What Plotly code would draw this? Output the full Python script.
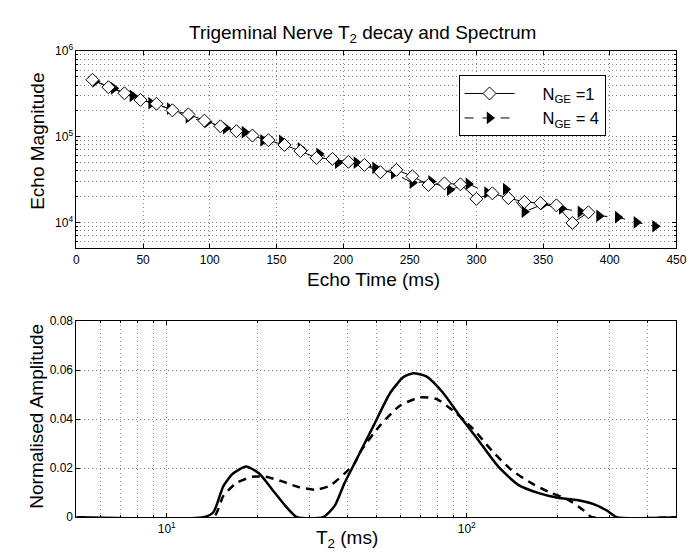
import math
import plotly.graph_objects as go

# ---- top panel: echo decay ----
echo_time_1 = [12, 24, 36, 48, 60, 72, 84, 96, 108, 120, 132, 144, 156, 168, 180, 192,
               204, 216, 228, 240, 252, 264, 276, 288, 300, 312, 324, 336, 348, 360, 372, 384]
echo_mag_1 = [4.62e5, 3.78e5, 3.21e5, 2.68e5, 2.42e5, 2.03e5, 1.82e5, 1.54e5, 1.32e5, 1.16e5,
              1.03e5, 9.1e4, 8.0e4, 6.8e4, 5.65e4, 5.5e4, 5.09e4, 4.68e4, 3.85e4, 4.10e4,
              3.45e4, 2.73e4, 2.85e4, 2.78e4, 1.88e4, 2.18e4, 1.92e4, 1.73e4, 1.68e4, 1.58e4,
              9.85e3, 1.31e4]

echo_time_4 = [14, 28, 42, 56, 70, 84, 98, 112, 126, 140, 154, 168, 182, 196, 210, 224,
               238, 252, 266, 280, 294, 308, 322, 336, 350, 364, 378, 392, 406, 420, 434]
echo_mag_4 = [4.43e5, 3.67e5, 3.0e5, 2.46e5, 2.12e5, 1.68e5, 1.48e5, 1.26e5, 1.13e5, 9.06e4,
              8.95e4, 7.33e4, 6.31e4, 4.97e4, 4.97e4, 4.33e4, 3.73e4, 2.90e4, 3.0e4, 2.40e4,
              2.81e4, 2.23e4, 2.44e4, 1.33e4, 1.63e4, 1.45e4, 1.33e4, 1.19e4, 1.15e4, 1.0e4,
              9.0e3]

# ---- bottom panel: T2 spectrum ----
t2_1 = [5, 13.27, 14.3, 15.43, 16.63, 18.39, 20.33, 22.49, 24.87, 27.18, 33.21, 36.28, 39.13,
        42.2, 49.07, 55.67, 61.54, 66.37, 73.38, 83.24, 94.43, 109.8, 127.7, 148.5, 172.8,
        200.9, 233.6, 264.9, 293.1, 316.0, 500]
amp_1 = [0, 0, 0.0020, 0.0126, 0.0178, 0.0207, 0.0178, 0.0112, 0.0046, 0, 0, 0.0046, 0.0139,
         0.0218, 0.0377, 0.0509, 0.0572, 0.0588, 0.0575, 0.0509, 0.0416, 0.0311, 0.0205, 0.0132,
         0.0099, 0.0079, 0.0070, 0.0053, 0.0027, 0, 0]

t2_4 = [5, 14.3, 15.43, 17.05, 19.34, 21.39, 24.26, 27.51, 31.2, 34.94, 39.13, 42.2, 44.38,
        51.62, 60.02, 69.82, 79.14, 89.81, 104.4, 121.4, 141.2, 164.2, 191.0, 216.6, 245.6,
        261.7, 500]
amp_4 = [0, 0, 0.0086, 0.0139, 0.0165, 0.0165, 0.0146, 0.0123, 0.0112, 0.0128, 0.0178, 0.0218,
         0.0271, 0.0377, 0.0456, 0.0489, 0.0483, 0.0436, 0.0364, 0.0271, 0.0192, 0.0139, 0.0099,
         0.0073, 0.0027, 0, 0]

x_ticks_top = [0, 50, 100, 150, 200, 250, 300, 350, 400, 450]
y_ticks_top = [1e4, 1e5, 1e6]
x_ticks_bot = [10, 100]
y_ticks_bot = [0, 0.02, 0.04, 0.06, 0.08]
y_labels_bot = ['0', '0.02', '0.04', '0.06', '0.08']

font = "Liberation Sans, Arial, sans-serif"
pad = '&nbsp;&nbsp;&nbsp;&nbsp;&nbsp;'

fig = go.Figure()

fig.add_trace(go.Scatter(
    x=echo_time_4, y=echo_mag_4, mode='lines+markers', name=pad + 'N<sub>GE</sub> = 4',
    line=dict(color='black', width=1, dash='dash'),
    marker=dict(symbol='triangle-right', size=11, color='black'),
    xaxis='x', yaxis='y', legendrank=2
))
fig.add_trace(go.Scatter(
    x=echo_time_1, y=echo_mag_1, mode='lines+markers', name=pad + 'N<sub>GE</sub> =1',
    line=dict(color='black', width=1),
    marker=dict(symbol='diamond', size=10, color='white', line=dict(color='black', width=1)),
    xaxis='x', yaxis='y', legendrank=1
))
fig.add_trace(go.Scatter(
    x=t2_1, y=amp_1, mode='lines', showlegend=False,
    line=dict(color='black', width=2.5, shape='spline', smoothing=0.6),
    xaxis='x2', yaxis='y2'
))
fig.add_trace(go.Scatter(
    x=t2_4, y=amp_4, mode='lines', showlegend=False,
    line=dict(color='black', width=2.5, dash='8px,6px', shape='spline', smoothing=0.6),
    xaxis='x2', yaxis='y2'
))

grid = dict(gridcolor='#888', gridwidth=1, griddash='1px,3px')
axis_style = dict(
    showline=True, linecolor='black', linewidth=1, mirror='ticks',
    ticks='inside', ticklen=4, tickcolor='black',
    showgrid=True, zeroline=False,
    tickfont=dict(family=font, size=12, color='black'), **grid
)
minor_log = dict(dtick='D1', ticks='inside', ticklen=2, tickcolor='black', showgrid=True, **grid)

xdom = [66.7 / 700, 678 / 700]

fig.update_layout(
    width=700, height=555,
    margin=dict(l=0, r=0, t=0, b=0),
    paper_bgcolor='white', plot_bgcolor='white',
    font=dict(family=font, color='black'),
    xaxis=dict(domain=xdom, anchor='y', range=[0, 450], tickvals=x_ticks_top,
               ticktext=[str(v) for v in x_ticks_top], **axis_style),
    yaxis=dict(domain=[(555 - 238) / 555, (555 - 35) / 555], anchor='x', type='log',
               range=[3.699, 6], tickvals=y_ticks_top,
               ticktext=['10<sup>%d</sup>' % round(math.log10(v)) for v in y_ticks_top],
               minor=minor_log, **axis_style),
    xaxis2=dict(domain=xdom, anchor='y2', type='log', range=[0.699, 2.699],
                tickvals=x_ticks_bot,
                ticktext=['10<sup>%d</sup>' % round(math.log10(v)) for v in x_ticks_bot],
                minor=minor_log, **axis_style),
    yaxis2=dict(domain=[(555 - 515) / 555, (555 - 313.3) / 555], anchor='x2',
                range=[0, 0.08], tickvals=y_ticks_bot, ticktext=y_labels_bot, **axis_style),
    legend=dict(x=456 / 700, y=(555 - 60) / 555, xanchor='left', yanchor='top',
                bgcolor='white', bordercolor='black', borderwidth=1, itemwidth=50,
                font=dict(family=font, size=16.5, color='black'), tracegroupgap=0),
)

# titles placed in pixel terms (x, y from the top-left)
labels = [
    ('Trigeminal Nerve T<sub>2</sub> decay and Spectrum', 358, 18, 0),
    ('Echo Magnitude', 27, 128, -90),
    ('Echo Time (ms)', 369, 270, 0),
    ('Normalised Amplitude', 26, 411, -90),
    ('T<sub>2</sub> (ms)', 342, 538, 0),
]
for text, px_x, px_y, ang in labels:
    fig.add_annotation(text=text, x=px_x / 700, y=1 - px_y / 555, xref='paper', yref='paper',
                       xanchor='center', yanchor='middle', textangle=ang, showarrow=False,
                       font=dict(family=font, size=19, color='black'))

fig.write_html("out.html")
